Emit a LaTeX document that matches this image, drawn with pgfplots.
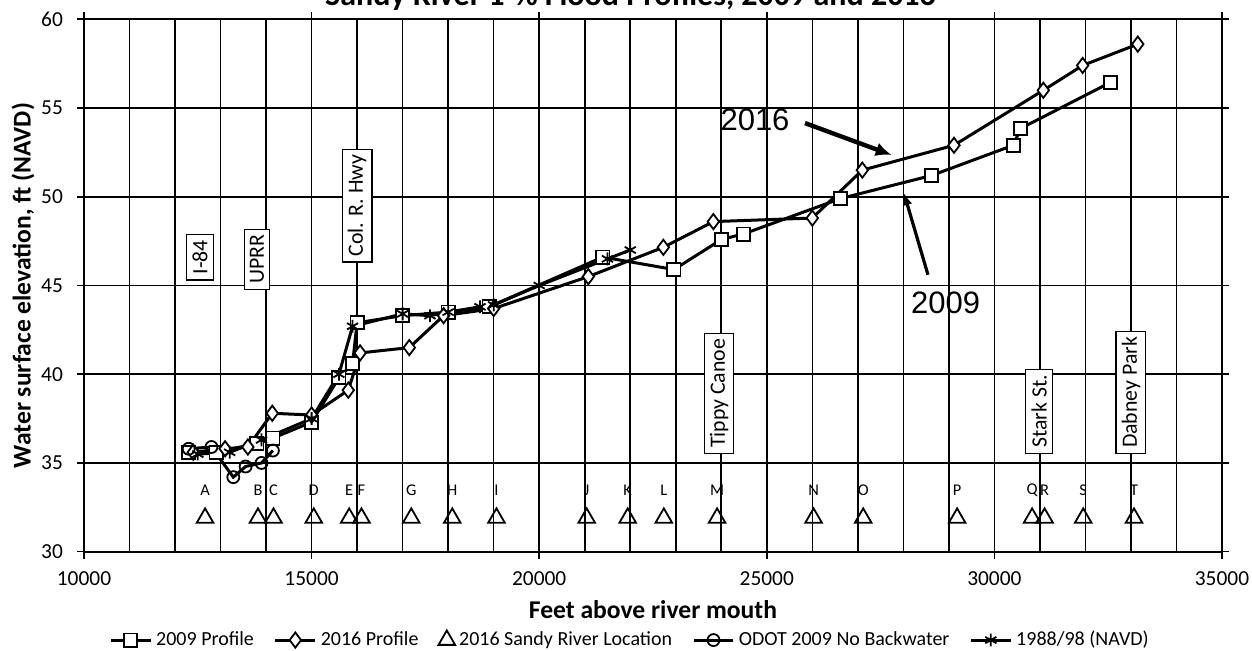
\documentclass[border=0pt]{standalone}
\usepackage{fontspec}
\setmainfont{Carlito}
\newfontfamily\arialfont{Liberation Sans}
\usepackage{pgfplots}
\usepackage{pgfplotstable}
\pgfplotsset{compat=1.18}
\usetikzlibrary{arrows.meta}

\pgfplotstableread{
x y
12300 35.6
12900 35.6
13800 36.1
14150 36.4
15000 37.3
15600 39.8
15900 40.6
16000 42.9
17000 43.3
18000 43.5
18900 43.8
21400 46.6
22961 45.9
24009 47.6
24484 47.9
26623 49.9
28622 51.2
30414 52.9
30577 53.85
32555 56.45
}\pnine

\pgfplotstableread{
x y
12400 35.6
13100 35.8
13600 35.9
14136 37.8
15000 37.7
15806 39.1
16066 41.2
17146 41.5
17900 43.3
19000 43.7
21079 45.5
22727 47.15
23826 48.6
26000 48.8
27098 51.5
29112 52.9
31075 56.0
31939 57.4
33150 58.6
}\psixteen

\pgfplotstableread{
x y lab
12660 31.9 A
13822 31.9 B
14163 31.9 C
15048 31.9 D
15826 31.9 E
16096 31.9 F
17190 31.9 G
18090 31.9 H
19062 31.9 I
21044 31.9 J
21944 31.9 K
22738 31.9 L
23908 31.9 M
26028 31.9 N
27118 31.9 O
29181 31.9 P
30828 31.9 Q
31103 31.9 R
31951 31.9 S
33067 31.9 T
}\loc

\pgfplotstableread{
x y
12300 35.8
12800 35.9
13280 34.2
13550 34.8
13900 35.0
14150 35.7
}\odot

\pgfplotstableread{
x y
12500 35.5
13200 35.6
13900 36.3
15000 37.5
15600 40.0
15900 42.7
17000 43.4
17600 43.3
18000 43.5
18700 43.8
19000 43.9
20000 45.0
21500 46.5
22000 47.0
}\pold

\begin{document}
\begin{tikzpicture}
\begin{axis}[
  at={(42pt,49.65pt)}, anchor=south west,
  scale only axis, width=569pt, height=266.2pt,
  xmin=10000, xmax=35000, ymin=30, ymax=60,
  xtick={10000,15000,...,35000},
  minor xtick={11000,12000,...,34000},
  ytick={30,35,...,60},
  grid=both,
  major grid style={black, line width=0.8pt},
  minor grid style={black, line width=0.8pt},
  axis line style={black, line width=1pt},
  tick align=outside,
  major tick length=3.5pt, minor tick length=0pt,
  tick style={black, line width=0.8pt},
  scaled x ticks=false,
  /pgf/number format/assume math mode=true,
  /pgf/number format/1000 sep={},
  ticklabel style={font=\fontsize{10.7}{12}\selectfont},
  xticklabel style={yshift=-3pt},
  yticklabel style={xshift=-3.5pt},
  xlabel={\textbf{Feet above river mouth}},
  ylabel={\textbf{Water surface elevation, ft (NAVD)}},
  label style={font=\fontsize{12.8}{15}\selectfont},
  xlabel style={at={(axis description cs:0.5,-0.109)}, anchor=center},
  ylabel style={at={(axis description cs:-0.0536,0.5)}, anchor=center},
  legend image code/.code={\draw[mark repeat=2,mark phase=2,#1] plot coordinates {(0cm,0cm) (0.35cm,0cm) (0.7cm,0cm)};},
  legend style={at={(axis description cs:0.4807,-0.166)}, anchor=center, draw=none,
    font=\fontsize{10}{12}\selectfont, legend columns=5,
    /tikz/every even column/.append style={column sep=8pt}},
  clip=false,
]
\addplot[black, line width=1.5pt, mark=square*, mark size=3.3pt,
  mark options={fill=white, line width=0.9pt}] table[x=x,y=y]{\pnine};
\addlegendentry{2009 Profile}
\addplot[black, line width=1.5pt, mark=diamond*, mark size=3.8pt,
  mark options={fill=white, line width=0.9pt}] table[x=x,y=y]{\psixteen};
\addlegendentry{2016 Profile}
\addplot[black, only marks, mark=triangle, mark size=4.8pt,
  mark options={line width=0.9pt}] table[x=x,y=y]{\loc};
\addlegendentry{2016 Sandy River Location}
\addplot[black, line width=1.5pt, mark=o, mark size=3pt,
  mark options={fill=white, line width=0.9pt}] table[x=x,y=y]{\odot};
\addlegendentry{ODOT 2009 No Backwater}
\addplot[black, line width=1.5pt, mark=asterisk, mark size=3.2pt,
  mark options={line width=0.9pt}] table[x=x,y=y]{\pold};
\addlegendentry{1988/98 (NAVD)}
\addplot[draw=none, mark=none, forget plot, nodes near coords, point meta=explicit symbolic,
  nodes near coords style={anchor=center, yshift=14pt, font=\fontsize{8.2}{10}\selectfont, inner sep=0pt}]
  table[x=x,y=y,meta=lab]{\loc};

\begin{scope}[every node/.style={draw, fill=white, rotate=90, font=\fontsize{10.9}{12}\selectfont, inner sep=2.8pt, line width=0.6pt}]
\node[anchor=east] at (axis cs:12548,47.9) {I-84};
\node[anchor=east] at (axis cs:13800,48.2) {UPRR};
\node at (axis cs:16000,49.5) {Col. R. Hwy};
\node[anchor=west] at (axis cs:23950,35.5) {Tippy Canoe};
\node[anchor=west] at (axis cs:30980,35.5) {Stark St.};
\node[anchor=west] at (axis cs:33000,35.5) {Dabney Park};
\end{scope}

\node[font=\arialfont\fontsize{15.5}{18}\selectfont] at (axis cs:24741,54.36) {2016};
\node[font=\arialfont\fontsize{15.5}{18}\selectfont] at (axis cs:28928,44.03) {2009};
\draw[line width=2.2pt, -{Latex[length=8pt,width=7pt]}] (axis cs:25839,54.15) -- (axis cs:27744,52.35);
\draw[line width=1.6pt, -{Latex[length=6pt,width=5pt]}] (axis cs:28541,45.6) -- (axis cs:28014,50.2);
\end{axis}
\node[font=\bfseries\fontsize{16}{18}\selectfont, anchor=base] at (315.25pt,322.5pt) {Sandy River 1-\% Flood Profiles, 2009 and 2016};
\pgfresetboundingbox
\useasboundingbox (0,0) rectangle (626pt,325.5pt);
\end{tikzpicture}
\end{document}
